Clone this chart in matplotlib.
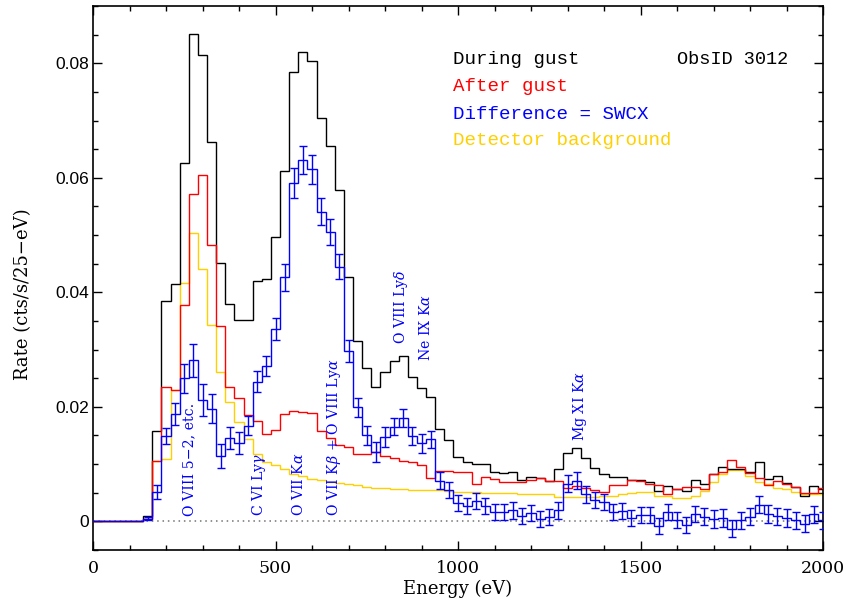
import numpy as np
import matplotlib
matplotlib.use("Agg")
import matplotlib.pyplot as plt
from matplotlib.ticker import MultipleLocator, FuncFormatter

plt.rcParams['mathtext.fontset'] = 'dejavuserif'

# 25 eV bins, centred on multiples of 25 eV
energy = np.arange(0, 2001, 25)

during = [0, 0, 0, 0, 0, 0,
          0.0010, 0.0157, 0.0384, 0.0415, 0.0626, 0.0851, 0.0814, 0.0663, 0.0452, 0.0380,
          0.0352, 0.0351, 0.0419, 0.0424, 0.0497, 0.0612, 0.0785, 0.0820, 0.0804, 0.0704,
          0.0656, 0.0579, 0.0427, 0.0315, 0.0267, 0.0234, 0.0260, 0.0280, 0.0288, 0.0252,
          0.0233, 0.0217, 0.0162, 0.0142, 0.0113, 0.0104, 0.0100, 0.0100, 0.0087, 0.0084,
          0.0086, 0.0073, 0.0077, 0.0075, 0.0070, 0.0091, 0.0119, 0.0128, 0.0110, 0.0094,
          0.0083, 0.0077, 0.0077, 0.0073, 0.0072, 0.0069, 0.0053, 0.0062, 0.0057, 0.0053,
          0.0073, 0.0065, 0.0083, 0.0095, 0.0091, 0.0091, 0.0086, 0.0104, 0.0074, 0.0079,
          0.0067, 0.0060, 0.0045, 0.0062, 0.0057]

after = [0, 0, 0, 0, 0, 0,
         0.0005, 0.0106, 0.0234, 0.0230, 0.0377, 0.0572, 0.0604, 0.0483, 0.0341, 0.0234,
         0.0216, 0.0185, 0.0176, 0.0153, 0.0160, 0.0188, 0.0192, 0.0191, 0.0189, 0.0157,
         0.0145, 0.0133, 0.0130, 0.0118, 0.0118, 0.0121, 0.0114, 0.0111, 0.0106, 0.0103,
         0.0099, 0.0075, 0.0088, 0.0088, 0.0087, 0.0086, 0.0065, 0.0077, 0.0074, 0.0069,
         0.0068, 0.0069, 0.0072, 0.0076, 0.0070, 0.0070, 0.0059, 0.0062, 0.0059, 0.0055,
         0.0052, 0.0064, 0.0064, 0.0072, 0.0070, 0.0065, 0.0063, 0.0048, 0.0057, 0.0060,
         0.0060, 0.0057, 0.0083, 0.0087, 0.0108, 0.0095, 0.0085, 0.0076, 0.0064, 0.0070,
         0.0065, 0.0060, 0.0049, 0.0049, 0.0059]

background = [0, 0, 0, 0, 0, 0,
              0.0005, 0.0106, 0.0109, 0.0229, 0.0417, 0.0503, 0.0441, 0.0343, 0.0261, 0.0208,
              0.0173, 0.0143, 0.0118, 0.0104, 0.0098, 0.0091, 0.0082, 0.0080, 0.0074, 0.0072,
              0.0069, 0.0067, 0.0066, 0.0063, 0.0060, 0.0059, 0.0058, 0.0057, 0.0056, 0.0055,
              0.0055, 0.0054, 0.0054, 0.0053, 0.0052, 0.0051, 0.0051, 0.0050, 0.0050, 0.0049,
              0.0049, 0.0048, 0.0048, 0.0048, 0.0047, 0.0043, 0.0043, 0.0043, 0.0043, 0.0043,
              0.0044, 0.0045, 0.0047, 0.0050, 0.0051, 0.0052, 0.0045, 0.0044, 0.0041, 0.0041,
              0.0045, 0.0053, 0.0068, 0.0082, 0.0089, 0.0090, 0.0080, 0.0069, 0.0065, 0.0059,
              0.0057, 0.0051, 0.0048, 0.0048, 0.0048]

swcx = [0, 0, 0, 0, 0, 0,
        0.0005, 0.0051, 0.0149, 0.0187, 0.0250, 0.0281, 0.0212, 0.0197, 0.0114, 0.0145,
        0.0137, 0.0167, 0.0244, 0.0271, 0.0336, 0.0426, 0.0591, 0.0631, 0.0615, 0.0541,
        0.0505, 0.0445, 0.0298, 0.0199, 0.0150, 0.0121, 0.0147, 0.0165, 0.0181, 0.0149,
        0.0136, 0.0143, 0.0071, 0.0054, 0.0032, 0.0027, 0.0036, 0.0026, 0.0016, 0.0017,
        0.0019, 0.0010, 0.0014, 0.0004, 0.0008, 0.0019, 0.0066, 0.0071, 0.0047, 0.0037,
        0.0033, 0.0016, 0.0018, 0.0006, 0.0011, 0.0011, -0.0008, 0.0016, 0.0002, -0.0007,
        0.0013, 0.0008, 0.0004, 0.0006, -0.0013, 0.0002, 0.0008, 0.0029, 0.0013, 0.0009,
        0.0006, 0.0002, -0.0004, 0.0012, 0.0002]

swcx_err = [0, 0, 0, 0, 0, 0,
            0.0003, 0.0012, 0.0014, 0.0019, 0.0025, 0.0029, 0.0028, 0.0026, 0.0021, 0.0019,
            0.0019, 0.0017, 0.0018, 0.0018, 0.0020, 0.0023, 0.0026, 0.0025, 0.0025, 0.0024,
            0.0023, 0.0022, 0.0019, 0.0017, 0.0017, 0.0018, 0.0017, 0.0015, 0.0016, 0.0016,
            0.0017, 0.0015, 0.0015, 0.0014, 0.0014, 0.0014, 0.0014, 0.0014, 0.0014, 0.0014,
            0.0014, 0.0014, 0.0014, 0.0014, 0.0014, 0.0015, 0.0015, 0.0015, 0.0015, 0.0014,
            0.0014, 0.0014, 0.0014, 0.0014, 0.0014, 0.0014, 0.0014, 0.0014, 0.0014, 0.0014,
            0.0014, 0.0015, 0.0015, 0.0015, 0.0015, 0.0015, 0.0015, 0.0015, 0.0015, 0.0015,
            0.0015, 0.0015, 0.0015, 0.0015, 0.0015]

# line identifications: (label, energy, y of label start)
line_labels = [
    ("O VIII 5\u22122, etc.", 263, 0.0010),
    (r"C VI Ly$\gamma$", 455, 0.0010),
    (r"O VII K$\alpha$", 564, 0.0010),
    (r"O VII K$\beta$ + O VIII Ly$\alpha$", 660, 0.0010),
    (r"O VIII Ly$\delta$", 843, 0.0310),
    (r"Ne IX K$\alpha$", 912, 0.0280),
    (r"Mg XI K$\alpha$", 1333, 0.0140),
]

legend_entries = [("During gust", "black"),
                  ("After gust", "#ff0000"),
                  ("Difference = SWCX", "#0000ff"),
                  ("Detector background", "#ffd000")]

energy = np.asarray(energy, dtype=float)
edges = np.append(energy - 12.5, energy[-1] + 12.5)

fig = plt.figure(figsize=(8.47, 6.01), dpi=100)
ax = fig.add_axes([93 / 847, 1 - 550 / 601, 730 / 847, 544 / 601])

ax.axhline(0, color="0.45", lw=1.1, ls=(0, (1, 2.5)), zorder=1)

lw = 1.0
ax.stairs(background, edges, color="#ffd000", lw=lw, zorder=2)
ax.stairs(during, edges, color="black", lw=lw, zorder=3)
ax.stairs(after, edges, color="#ff0000", lw=lw, zorder=4)
ax.stairs(swcx, edges, color="#0000ff", lw=lw, zorder=5)

err = np.asarray(swcx_err)
m = err > 0
ax.errorbar(energy[m], np.asarray(swcx)[m], yerr=err[m], fmt="none",
            ecolor="#0000ff", elinewidth=1.0, capsize=2.6, capthick=1.0, zorder=6)

for text, e, y in line_labels:
    ax.text(e, y, text, rotation=90, ha="center", va="bottom", color="#0000ff",
            family="DejaVu Serif", fontsize=10.2, zorder=7)

ty = [0.0807, 0.0760, 0.0711, 0.0665]
for (label, col), y in zip(legend_entries, ty):
    ax.text(985, y, label, color=col, family="Liberation Mono",
            fontsize=13.8, ha="left", va="center")
ax.text(1600, 0.0807, "ObsID 3012", color="black", family="Liberation Mono",
        fontsize=13.4, ha="left", va="center")

ax.set_xlim(0, 2000)
ax.set_ylim(-0.005, 0.09)
ax.xaxis.set_major_locator(MultipleLocator(500))
ax.xaxis.set_minor_locator(MultipleLocator(100))
ax.yaxis.set_major_locator(MultipleLocator(0.02))
ax.yaxis.set_minor_locator(MultipleLocator(0.005))
ax.yaxis.set_major_formatter(FuncFormatter(lambda v, p: "0" if abs(v) < 1e-9 else f"{v:.2f}"))
ax.tick_params(which="both", direction="in", top=True, right=True, width=1.0)
ax.tick_params(which="major", length=6.5)
ax.tick_params(which="minor", length=3.6)
ax.tick_params(axis="x", pad=7)
ax.tick_params(axis="y", pad=3)
for s in ax.spines.values():
    s.set_linewidth(1.2)

for lab in ax.get_xticklabels():
    lab.set_family("DejaVu Serif")
    lab.set_fontsize(12.5)
for lab in ax.get_yticklabels():
    lab.set_family("Liberation Sans")
    lab.set_fontsize(12.5)

ax.set_xlabel("Energy (eV)", family="DejaVu Serif", fontsize=13, labelpad=2)
ax.set_ylabel("Rate (cts/s/25\u2212eV)", family="DejaVu Serif", fontsize=13)
ax.yaxis.set_label_coords(-0.084, 0.47)

fig.savefig("out.png", dpi=100)
